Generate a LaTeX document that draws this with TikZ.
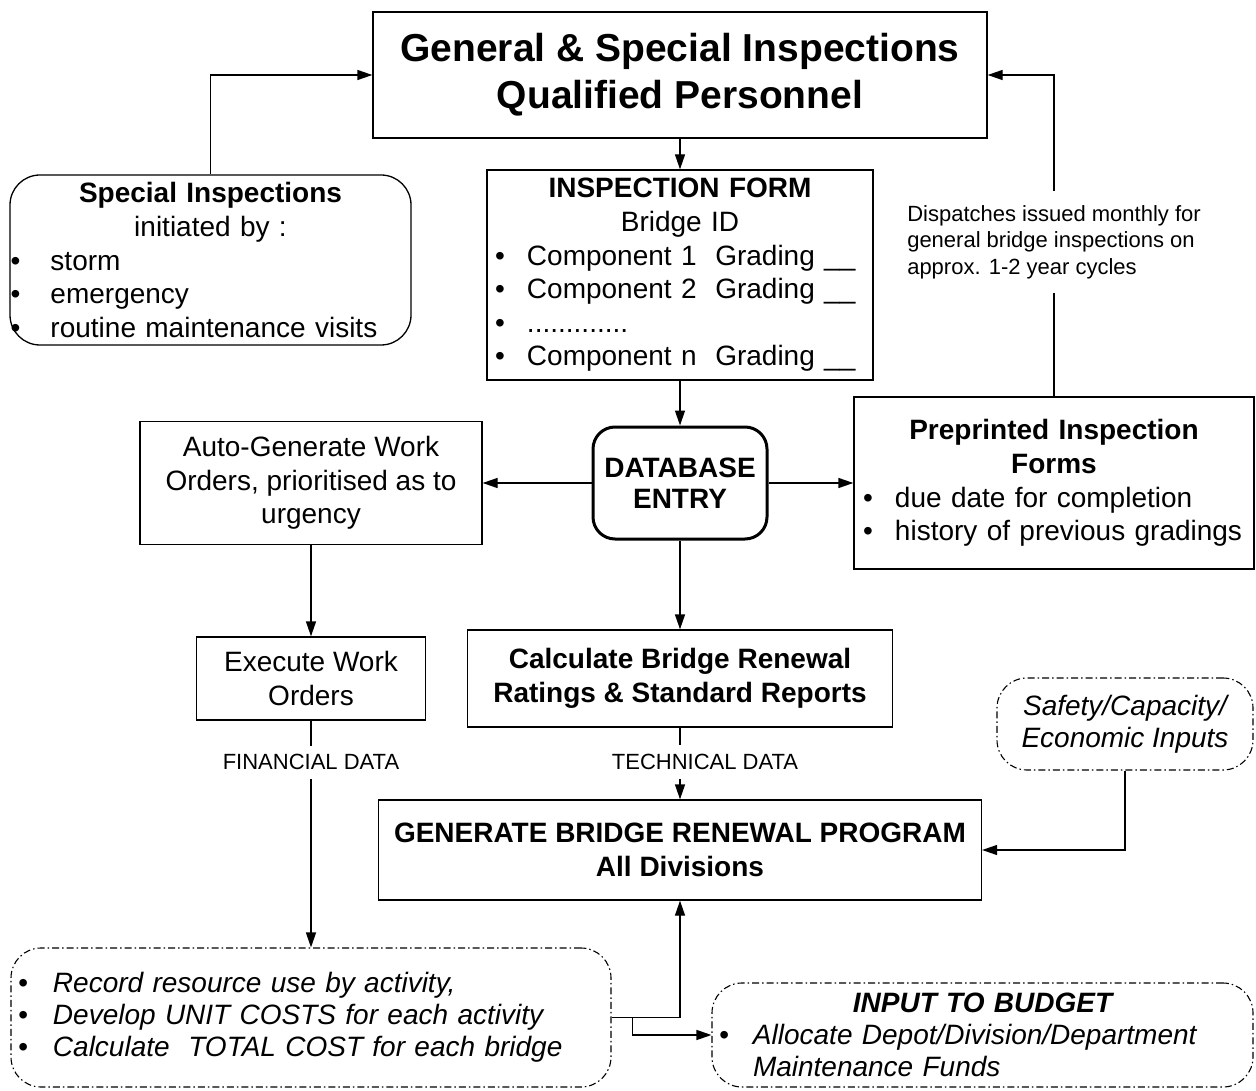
\documentclass[tikz,border=0pt]{standalone}
\usepackage{fontspec}
\setmainfont{Liberation Sans}
\usetikzlibrary{arrows.meta}
% font sizes (1pt = 1 unit of the picture)
\newcommand\fsT{\fontsize{39}{47}\selectfont}
\newcommand\fsM{\fontsize{28}{33.6}\selectfont}
\newcommand\fsI{\fontsize{28}{32}\selectfont}
\newcommand\fsS{\fontsize{22}{26.5}\selectfont}
% bullet in a fixed-width slot, and a centred full-width line
\newcommand\bul[1]{\makebox[#1][l]{\textbullet}}
\newcommand\ctr[2]{\makebox[#1]{#2}}
\begin{document}
\begin{tikzpicture}[x=1pt, y=-1pt,
  plain/.style={draw, line width=1.3pt, inner sep=0pt, align=center, font=\fsM},
  roundbox/.style={plain, rounded corners=30pt},
  dashbox/.style={draw, line width=1.1pt, dash pattern=on 7pt off 3pt on 1.5pt off 3pt,
                  rounded corners=30pt, inner sep=0pt, align=center, font=\fsI\itshape},
  arr/.style={line width=1.3pt, -{Triangle[length=15pt,width=10pt]}},
  lab/.style={fill=white, inner xsep=3pt, inner ysep=9pt, font=\fsS}]
\useasboundingbox (0,0) rectangle (1256,1091);

% boxes
\node[plain, minimum width=614pt, minimum height=126pt, font=\fsT\bfseries] (title) at (680,75)
  {General \& Special Inspections\\Qualified Personnel};

\node[roundbox, minimum width=401pt, minimum height=170pt, text width=400pt, align=left] (spec) at (210.5,260)
  {\ctr{400pt}{\bfseries Special Inspections}\\
   \ctr{400pt}{initiated by :}\\
   \bul{40pt}storm\\
   \bul{40pt}emergency\\
   \bul{40pt}routine maintenance visits};

\node[plain, minimum width=386pt, minimum height=210pt, text width=370pt, align=left] (form) at (680,275)
  {\ctr{370pt}{\bfseries INSPECTION FORM}\\
   \ctr{370pt}{Bridge ID}\\
   \bul{32pt}Component 1~~Grading~\_\_\\
   \bul{32pt}Component 2~~Grading~\_\_\\
   \bul{32pt}.............\\
   \bul{32pt}Component n~~Grading~\_\_};

\node[draw, line width=3pt, rounded corners=22pt, minimum width=174pt, minimum height=112pt,
      inner sep=0pt, align=center, font=\fontsize{28}{31}\selectfont\bfseries] (db) at (680,483)
  {DATABASE\\ENTRY};

\node[plain, minimum width=342pt, minimum height=123pt] (auto) at (311,483)
  {Auto-Generate Work\\Orders, prioritised as to\\urgency};

\node[plain, minimum width=400pt, minimum height=172pt, text width=382pt, align=left] (pre) at (1054,483)
  {\ctr{382pt}{\bfseries Preprinted Inspection}\\
   \ctr{382pt}{\bfseries Forms}\\
   \bul{32pt}due date for completion\\
   \bul{32pt}history of previous gradings};

\node[plain, minimum width=229pt, minimum height=83pt] (exec) at (311,678.5)
  {Execute Work\\Orders};

\node[plain, minimum width=425pt, minimum height=97pt, font=\fsM\bfseries] (calc) at (680,678.5)
  {Calculate Bridge Renewal\\Ratings \& Standard Reports};

\node[dashbox, minimum width=256pt, minimum height=92pt] (saf) at (1125,724)
  {Safety/Capacity/\\Economic Inputs};

\node[plain, minimum width=603pt, minimum height=100pt, font=\fsM\bfseries] (gen) at (680,850)
  {GENERATE BRIDGE RENEWAL PROGRAM\\All Divisions};

\node[dashbox, minimum width=600pt, minimum height=139pt, text width=586pt, align=left] (cost) at (311,1017.5)
  {\bul{35pt}Record resource use by activity,\\
   \bul{35pt}Develop UNIT COSTS for each activity\\
   \bul{35pt}Calculate~~TOTAL COST for each bridge};

\node[dashbox, minimum width=541pt, minimum height=104pt, text width=527pt, align=left] (bud) at (982.5,1035)
  {\ctr{527pt}{\bfseries INPUT TO BUDGET}\\
   \bul{34pt}Allocate Depot/Division/Department\\
   \hspace*{34pt}Maintenance Funds};

% connectors
\draw[arr] (spec.north) |- (title.west);
\draw[arr] (pre.north) |- node[lab, pos=0.24, inner ysep=14pt, align=left]
  {Dispatches issued monthly for\\general bridge inspections on\\approx. 1-2 year cycles} (title.east);
\draw[arr] (title.south) -- (form.north);
\draw[arr] (form.south) -- (db.north);
\draw[arr] (db.west) -- (auto.east);
\draw[arr] (db.east) -- (pre.west);
\draw[arr] (auto.south) -- (exec.north);
\draw[arr] (db.south) -- (calc.north);
\draw[arr] (exec.south) -- node[lab, pos=0.184] {FINANCIAL DATA} (cost.north);
\draw[arr] (calc.south) -- node[lab, pos=0.48, xshift=25pt] {TECHNICAL DATA} (gen.north);
\draw[arr] (saf.south) |- (gen.east);
\draw[arr] (cost.east) -| (gen.south);
\path (cost.east) ++(21,0) coordinate (split);
\draw[arr] (split) |- (bud.west);
\end{tikzpicture}
\end{document}
